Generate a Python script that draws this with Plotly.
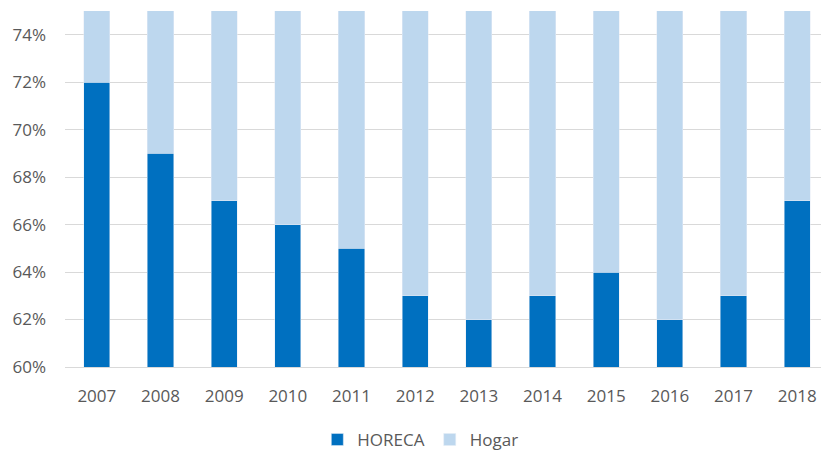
import plotly.graph_objects as go

years = ["2007", "2008", "2009", "2010", "2011", "2012", "2013", "2014", "2015", "2016", "2017", "2018"]
horeca = [72, 69, 67, 66, 65, 63, 62, 63, 64, 62, 63, 67]
hogar = [100 - v for v in horeca]
ytick_vals = [60, 62, 64, 66, 68, 70, 72, 74]
ytick_text = ["60%", "62%", "64%", "66%", "68%", "70%", "72%", "74%"]

fig = go.Figure()
fig.add_trace(go.Bar(x=years, y=horeca, name="HORECA", marker_color="#0070C0"))
fig.add_trace(go.Bar(x=years, y=hogar, name="Hogar", marker_color="#BDD7EE"))

fig.update_layout(
    barmode="stack",
    bargap=0.59,
    width=821, height=454,
    margin=dict(l=65, r=0, t=11, b=87, autoexpand=False),
    plot_bgcolor="white", paper_bgcolor="white",
    font=dict(family="Open Sans, Liberation Sans, sans-serif", size=17, color="#595959"),
    legend=dict(orientation="h", x=0.47, xanchor="center", y=-0.205, yanchor="middle",
                font=dict(size=17, color="#595959"), traceorder="normal"),
    showlegend=True,
)
fig.update_yaxes(range=[60, 75], tickvals=ytick_vals, ticktext=ytick_text,
                 showgrid=True, gridcolor="#D9D9D9", gridwidth=1, zeroline=False,
                 ticks="", ticklabelstandoff=18, automargin=False)
fig.update_xaxes(type="category", range=[-0.5, 11.374], showgrid=False, showline=True,
                 linecolor="#D9D9D9", ticks="", ticklabelstandoff=14, automargin=False,
                 tickfont=dict(size=17), ticklabeloverflow="allow")

fig.write_html("out.html", config={"displayModeBar": False},
               post_script="document.body.style.margin='0';document.body.style.overflow='hidden';")
